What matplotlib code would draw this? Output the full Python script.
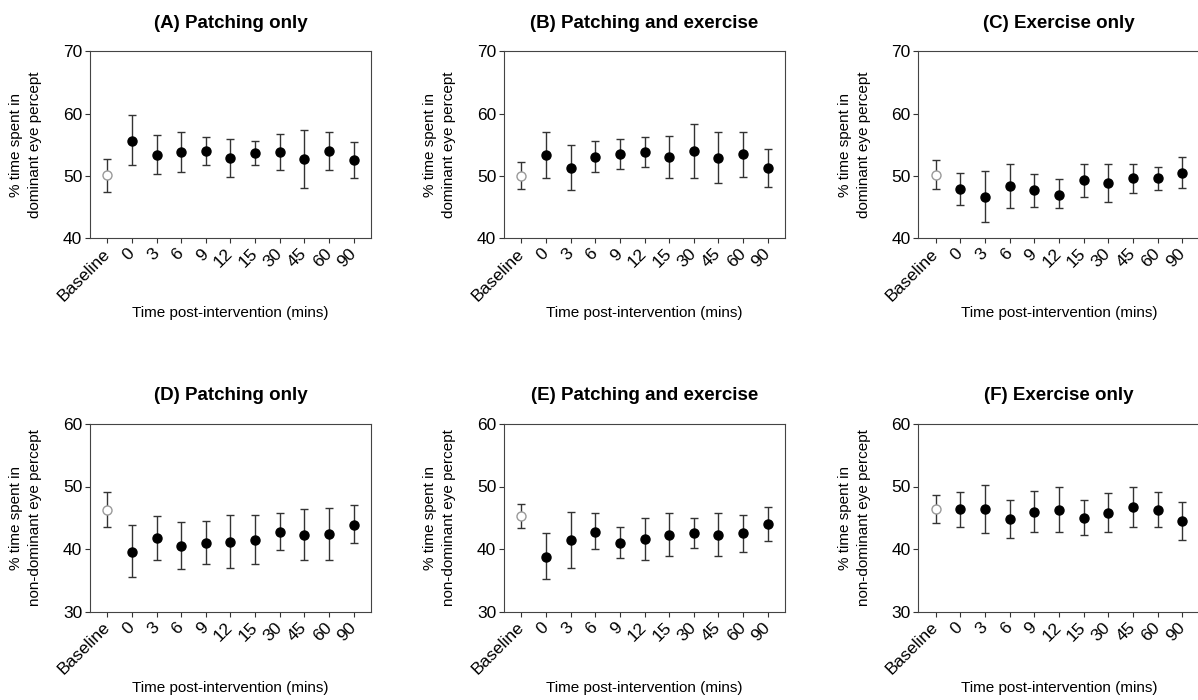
import numpy as np
import matplotlib.pyplot as plt
import matplotlib.transforms as mtransforms

plt.rcParams['font.family'] = ['Liberation Sans', 'DejaVu Sans']

time_labels = ['Baseline', '0', '3', '6', '9', '12', '15', '30', '45', '60', '90']

# dominant eye (top row): mean, lower and upper end of error bar
a_mean = [50.2, 55.7, 53.4, 53.8, 54.0, 52.9, 53.7, 53.8, 52.7, 54.0, 52.5]
a_lo = [47.5, 51.7, 50.3, 50.7, 51.7, 49.9, 51.7, 50.9, 48.0, 50.9, 49.7]
a_hi = [52.8, 59.8, 56.6, 57.1, 56.3, 56.0, 55.7, 56.7, 57.4, 57.0, 55.4]

b_mean = [50.0, 53.3, 51.3, 53.1, 53.5, 53.8, 53.1, 54.0, 52.9, 53.5, 51.3]
b_lo = [47.9, 49.6, 47.7, 50.7, 51.2, 51.4, 49.7, 49.7, 48.9, 49.9, 48.3]
b_hi = [52.3, 57.0, 55.0, 55.7, 55.9, 56.3, 56.5, 58.4, 57.0, 57.1, 54.4]

c_mean = [50.2, 47.9, 46.6, 48.4, 47.7, 47.0, 49.4, 48.9, 49.7, 49.6, 50.5]
c_lo = [47.9, 45.4, 42.6, 44.9, 45.1, 44.8, 46.6, 45.9, 47.3, 47.7, 48.0]
c_hi = [52.5, 50.5, 50.8, 52.0, 50.3, 49.5, 52.0, 52.0, 52.0, 51.5, 53.0]

# non-dominant eye (bottom row)
d_mean = [46.3, 39.6, 41.8, 40.5, 41.0, 41.1, 41.5, 42.8, 42.2, 42.4, 43.9]
d_lo = [43.5, 35.5, 38.3, 36.8, 37.6, 36.9, 37.6, 39.9, 38.2, 38.3, 40.9]
d_hi = [49.2, 43.8, 45.3, 44.4, 44.5, 45.4, 45.5, 45.8, 46.4, 46.5, 47.1]

e_mean = [45.3, 38.8, 41.4, 42.8, 40.9, 41.6, 42.3, 42.5, 42.3, 42.5, 44.0]
e_lo = [43.4, 35.2, 36.9, 40.0, 38.5, 38.3, 38.9, 40.2, 38.9, 39.6, 41.3]
e_hi = [47.2, 42.5, 45.9, 45.7, 43.5, 44.9, 45.7, 44.9, 45.7, 45.5, 46.8]

f_mean = [46.4, 46.4, 46.4, 44.8, 46.0, 46.3, 45.0, 45.7, 46.8, 46.2, 44.5]
f_lo = [44.2, 43.6, 42.6, 41.8, 42.7, 42.7, 42.2, 42.7, 43.6, 43.5, 41.5]
f_hi = [48.6, 49.1, 50.2, 47.9, 49.3, 50.0, 47.8, 48.9, 50.0, 49.2, 47.5]

titles = ['(A) Patching only', '(B) Patching and exercise', '(C) Exercise only',
          '(D) Patching only', '(E) Patching and exercise', '(F) Exercise only']
ylabel_top = '% time spent in\ndominant eye percept'
ylabel_bottom = '% time spent in\nnon-dominant eye percept'

fig = plt.figure(figsize=(11.98, 7), dpi=100)

lefts = [0.0751, 0.4207, 0.7666]
width = 0.2346
rows = [(0.6596, 0.2669), (0.1264, 0.2679)]

data = [(a_mean, a_lo, a_hi), (b_mean, b_lo, b_hi), (c_mean, c_lo, c_hi),
        (d_mean, d_lo, d_hi), (e_mean, e_lo, e_hi), (f_mean, f_lo, f_hi)]

line_col = '#333333'
x = np.arange(len(time_labels))

for i, (mean, lo, hi) in enumerate(data):
    r, c = divmod(i, 3)
    bottom, height = rows[r]
    ax = fig.add_axes([lefts[c], bottom, width, height])
    mean = np.array(mean)
    err = np.array([mean - np.array(lo), np.array(hi) - mean])

    # baseline: open marker
    ax.errorbar(x[:1], mean[:1], yerr=err[:, :1], fmt='o', ms=6.5,
                mfc='white', mec='#9a9a9a', mew=1.0, ecolor=line_col,
                elinewidth=1, capsize=3, capthick=1)
    # post-intervention
    ax.errorbar(x[1:], mean[1:], yerr=err[:, 1:], fmt='o', ms=6.5,
                mfc='black', mec='black', ecolor=line_col,
                elinewidth=1, capsize=3, capthick=1)

    if r == 0:
        ax.set_ylim(40, 70)
        ax.set_yticks([40, 50, 60, 70])
        ax.set_ylabel(ylabel_top, fontsize=11, linespacing=1.45)
    else:
        ax.set_ylim(30, 60)
        ax.set_yticks([30, 40, 50, 60])
        ax.set_ylabel(ylabel_bottom, fontsize=11, linespacing=1.45)
    ax.yaxis.set_label_coords(-0.17, 0.5)

    ax.set_xlim(-0.7, 10.7)
    ax.set_xticks(x)
    ax.set_xticklabels(time_labels, rotation=45, ha='right', va='center',
                       rotation_mode='anchor')
    offset = mtransforms.ScaledTranslation(0.04, 0, fig.dpi_scale_trans)
    for lab in ax.get_xticklabels():
        lab.set_transform(lab.get_transform() + offset)

    ax.set_xlabel('Time post-intervention (mins)', fontsize=11)
    ax.xaxis.set_label_coords(0.5, -0.36 if r == 0 else -0.37)

    ax.set_title(titles[i], fontsize=13.5, fontweight='bold', pad=17)

    ax.tick_params(axis='both', direction='out', length=3.5, width=0.8,
                   color=line_col, labelsize=12.5)
    ax.tick_params(axis='x', pad=6)
    ax.tick_params(axis='y', pad=2)
    for s in ax.spines.values():
        s.set_color('#444444')
        s.set_linewidth(0.8)

fig.savefig('out.png', dpi=100)
